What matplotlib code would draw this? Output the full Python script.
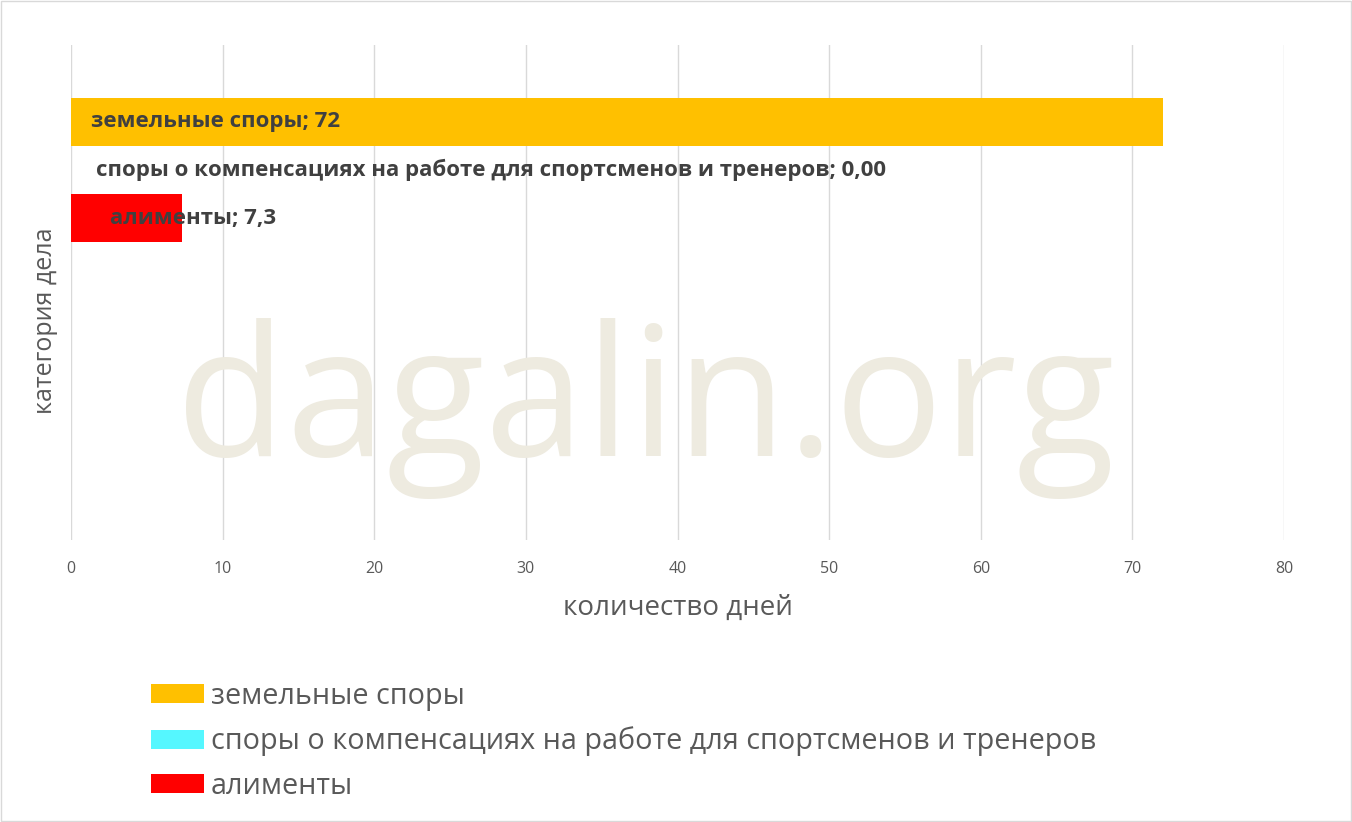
import matplotlib.pyplot as plt
from matplotlib.patches import Patch

categories = ['земельные споры',
              'споры о компенсациях на работе для спортсменов и тренеров',
              'алименты']
values = [72, 0.0, 7.3]
value_labels = ['72', '0,00', '7,3']
colors = ['#FFC000', '#55F7FF', '#FF0000']
label_offsets = [20, 25, 39]  # px from the axis start

xticks = [0, 10, 20, 30, 40, 50, 60, 70, 80]

plt.rcParams['font.family'] = ['Open Sans', 'DejaVu Sans']

fig = plt.figure(figsize=(13.52, 8.22), dpi=100)
ax = fig.add_axes([71 / 1352, 1 - 540 / 822, (1284 - 71) / 1352, (540 - 45) / 822])

# watermark
fig.text(645 / 1352, 1 - 408 / 822, 'dagalin.org', color='#EEEBE0', fontsize=130,
         ha='center', va='center', zorder=0)

for i, (cat, v, c) in enumerate(zip(categories, values, colors)):
    ax.barh(i, v, height=1.0, color=c, zorder=2)

for i, (cat, lab, off) in enumerate(zip(categories, value_labels, label_offsets)):
    ax.annotate(f'{cat}; {lab}', xy=(0, i), xytext=(off * 0.72, 0), textcoords='offset points',
                ha='left', va='center', fontsize=16, fontweight='bold', color='#404040', zorder=3)

ax.set_xlim(0, 80)
ax.set_ylim(8.7, -1.6)
ax.set_xticks(xticks)
ax.set_xticklabels([str(t) for t in xticks], color='#595959', fontsize=11.5)
ax.set_yticks([])
ax.tick_params(axis='x', length=0, pad=15)
ax.grid(axis='x', color='#D9D9D9', linewidth=1, zorder=1)
ax.set_axisbelow(True)
for s in ax.spines.values():
    s.set_visible(False)
ax.patch.set_alpha(0)

ax.set_xlabel('количество дней', fontsize=20, color='#595959')
ax.xaxis.set_label_coords(0.5, -(608 - 540) / 495)
ax.xaxis.label.set_va('center')
ax.set_ylabel('категория дела', fontsize=18, color='#595959')
ax.yaxis.set_label_coords(-(71 - 46) / 1213, 1 - (321 - 45) / 495)
ax.yaxis.label.set_va('center')

handles = [Patch(facecolor=c) for c in colors]
leg = fig.legend(handles, categories, loc='upper left', bbox_to_anchor=(125 / 1352, 1 - 656 / 822),
                 frameon=False, fontsize=20.7, handlelength=1.85, handleheight=0.63,
                 handletextpad=0.24, labelspacing=0.54, labelcolor='#595959')

# figure border
fig.patches.append(plt.Rectangle((0.001, 0.001), 0.998, 0.998, transform=fig.transFigure,
                                 fill=False, edgecolor='#D9D9D9', linewidth=1))

fig.savefig('out.png', dpi=100)
